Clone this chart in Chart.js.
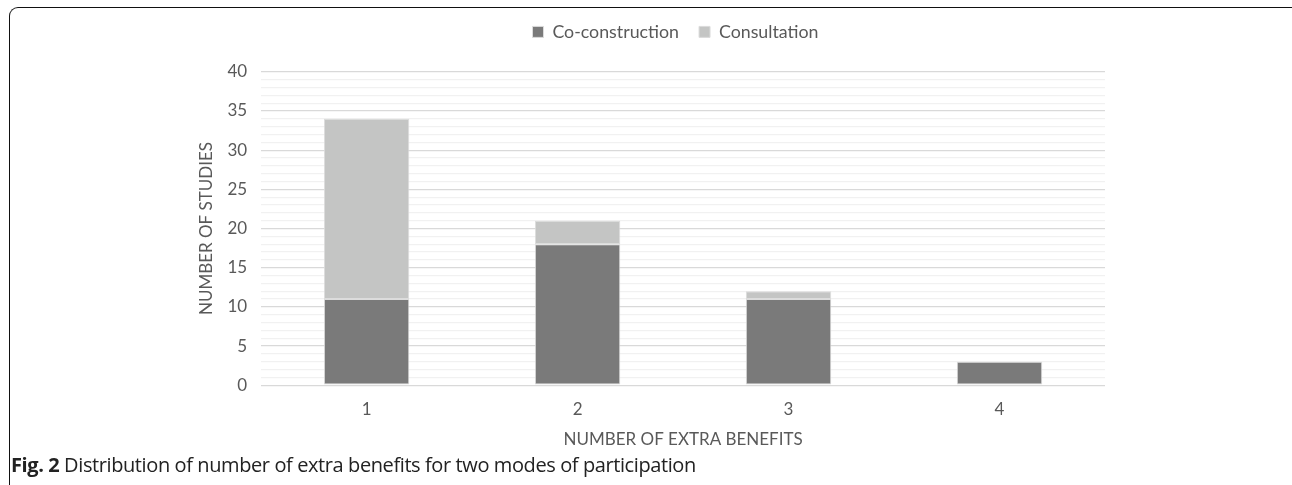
<!DOCTYPE html>
<html>
<head>
<meta charset="utf-8">
<script src="https://cdn.jsdelivr.net/npm/chart.js@4"></script>
<style>
  html, body { margin: 0; padding: 0; background: #fff; }
  body { width: 1292px; height: 485px; position: relative; overflow: hidden; }
  #frame { position: absolute; left: 9px; top: 7px; width: 1300px; height: 490px;
           border-top: 1.5px solid #111; border-left: 1.5px solid #111; border-radius: 9px; box-sizing: border-box; }
  #wrap { position: absolute; left: 0; top: 0; width: 1292px; height: 454px; }
  #caption { position: absolute; left: 11px; top: 451px; font-family: "Open Sans", sans-serif;
             font-size: 20px; color: #222; letter-spacing: -0.4px; white-space: nowrap; }
  #caption b { font-weight: 700; }
</style>
</head>
<body>
<div id="frame"></div>
<div id="wrap"><canvas id="c"></canvas></div>
<div id="caption"><b>Fig. 2</b> Distribution of number of extra benefits for two modes of participation</div>
<script>
const categories = ['1', '2', '3', '4'];
const coConstruction = [11, 18, 11, 3];
const consultation = [23, 3, 1, 0];
const yTickValues = [0, 5, 10, 15, 20, 25, 30, 35, 40];
const seriesNames = ['Co-construction', 'Consultation'];
const xTitle = 'NUMBER OF EXTRA BENEFITS';
const yTitle = 'NUMBER OF STUDIES';

const txt = '#595959';
const font = { family: "Lato, 'Open Sans', sans-serif", size: 17 };
const legendFont = { family: "Lato, 'Open Sans', sans-serif", size: 17.8 };

const legendSpacer = {
  id: 'legendSpacer',
  beforeInit(chart) {
    const lg = chart.legend;
    const orig = lg.fit;
    lg.fit = function () { orig.call(this); this.height += 21; };
  },
  afterLayout(chart) {
    chart.legend.left += 25;
    chart.legend.right += 25;
  }
};

new Chart(document.getElementById('c'), {
  type: 'bar',
  plugins: [legendSpacer],
  data: {
    labels: categories,
    datasets: [
      { label: seriesNames[0], data: coConstruction, backgroundColor: '#7a7a7a',
        borderColor: '#dcdcdc', borderWidth: 1, borderSkipped: false,
        categoryPercentage: 1, barPercentage: 0.405 },
      { label: seriesNames[1], data: consultation, backgroundColor: '#c4c5c4',
        borderColor: '#dcdcdc', borderWidth: 1, borderSkipped: false,
        categoryPercentage: 1, barPercentage: 0.405 }
    ]
  },
  options: {
    responsive: true,
    maintainAspectRatio: false,
    animation: false,
    layout: { padding: { left: 196, right: 187, top: 3, bottom: 0 } },
    plugins: {
      legend: {
        position: 'top',
        labels: { color: txt, font: legendFont, boxWidth: 11, boxHeight: 11, padding: 20 }
      },
      tooltip: { enabled: false }
    },
    scales: {
      x: {
        stacked: true,
        grid: { display: false },
        border: { display: false },
        ticks: { color: txt, font: font, padding: 6 },
        title: { display: true, text: xTitle, color: txt, font: font, padding: { top: 4 } }
      },
      y: {
        stacked: true,
        min: 0, max: 40,
        border: { display: false },
        grid: {
          color: (ctx) => yTickValues.includes(ctx.tick.value) ? '#d9d9d9' : '#f1f1f1',
          lineWidth: 1.2,
          drawTicks: false
        },
        ticks: {
          stepSize: 1, autoSkip: false, color: txt, font: font, padding: 14,
          callback: (v) => yTickValues.includes(v) ? String(v) : ''
        },
        title: { display: true, text: yTitle, color: txt, font: font, padding: { top: 0, bottom: -3 } }
      }
    }
  }
});
</script>
</body>
</html>
